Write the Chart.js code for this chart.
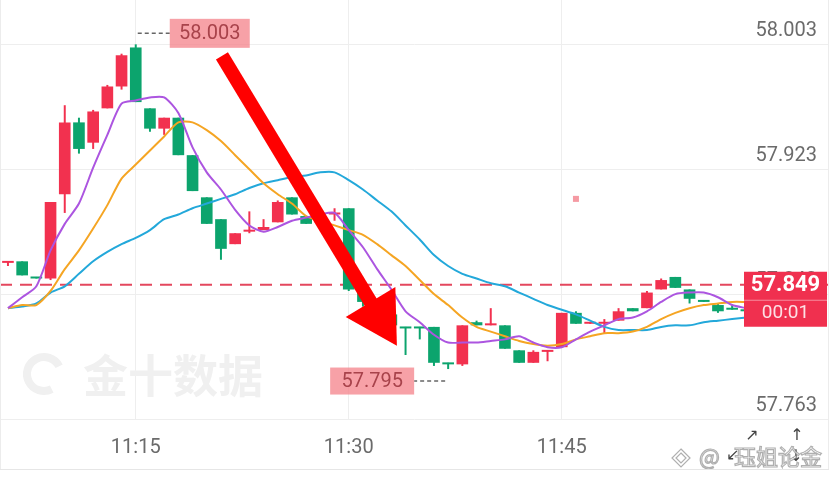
<!DOCTYPE html>
<html lang="zh">
<head>
<meta charset="utf-8">
<title>K线</title>
<script src="https://cdn.jsdelivr.net/npm/chart.js@4.4.1/dist/chart.umd.min.js"></script>
<style>
  html, body { margin: 0; padding: 0; background: #fff; }
  .kline-box { position: relative; width: 829px; height: 469px; border-bottom: 1px solid #e6e6e6; }
</style>
</head>
<body>
<div class="kline-box"><canvas id="kline"></canvas></div>
<script>
const times = ['11:06', '11:07', '11:08', '11:09', '11:10', '11:11', '11:12', '11:13', '11:14', '11:15',
  '11:16', '11:17', '11:18', '11:19', '11:20', '11:21', '11:22', '11:23', '11:24', '11:25',
  '11:26', '11:27', '11:28', '11:29', '11:30', '11:31', '11:32', '11:33', '11:34', '11:35',
  '11:36', '11:37', '11:38', '11:39', '11:40', '11:41', '11:42', '11:43', '11:44', '11:45',
  '11:46', '11:47', '11:48', '11:49', '11:50', '11:51', '11:52', '11:53', '11:54', '11:55',
  '11:56', '11:57', '11:58'];

const opens = [57.863, 57.864, 57.854, 57.853, 57.907, 57.953, 57.940, 57.962, 57.976, 58.001,
  57.962, 57.949, 57.956, 57.932, 57.905, 57.891, 57.875, 57.883, 57.884, 57.889,
  57.905, 57.893, 57.889, 57.894, 57.898, 57.846, 57.838, 57.830, 57.822, 57.822,
  57.822, 57.799, 57.798, 57.825, 57.823, 57.823, 57.807, 57.799, 57.806, 57.809,
  57.831, 57.824, 57.824, 57.826, 57.834, 57.834, 57.846, 57.854, 57.846, 57.839,
  57.836, 57.834, 57.833];
const highs = [57.864, 57.864, 57.854, 57.902, 57.964, 57.956, 57.961, 57.977, 57.997, 58.003,
  57.962, 57.956, 57.956, 57.932, 57.905, 57.891, 57.882, 57.896, 57.891, 57.903,
  57.905, 57.893, 57.895, 57.898, 57.898, 57.847, 57.838, 57.830, 57.822, 57.822,
  57.822, 57.799, 57.823, 57.826, 57.834, 57.823, 57.807, 57.807, 57.807, 57.831,
  57.832, 57.825, 57.827, 57.834, 57.834, 57.845, 57.853, 57.854, 57.846, 57.839,
  57.837, 57.836, 57.833];
const lows = [57.861, 57.855, 57.853, 57.852, 57.895, 57.933, 57.936, 57.962, 57.974, 57.966,
  57.947, 57.945, 57.932, 57.909, 57.888, 57.865, 57.875, 57.882, 57.884, 57.889,
  57.894, 57.888, 57.888, 57.890, 57.845, 57.835, 57.826, 57.820, 57.804, 57.814,
  57.797, 57.795, 57.797, 57.823, 57.823, 57.808, 57.799, 57.799, 57.800, 57.809,
  57.824, 57.824, 57.818, 57.826, 57.832, 57.834, 57.846, 57.847, 57.837, 57.838,
  57.831, 57.833, 57.832];
const closes = [57.864, 57.855, 57.853, 57.902, 57.953, 57.936, 57.960, 57.976, 57.996, 57.966,
  57.949, 57.956, 57.932, 57.909, 57.888, 57.872, 57.882, 57.884, 57.886, 57.902,
  57.894, 57.888, 57.893, 57.895, 57.846, 57.838, 57.830, 57.823, 57.821, 57.821,
  57.799, 57.798, 57.823, 57.823, 57.824, 57.808, 57.799, 57.806, 57.807, 57.831,
  57.824, 57.825, 57.825, 57.832, 57.832, 57.844, 57.852, 57.847, 57.840, 57.838,
  57.832, 57.833, 57.832];

// moving averages as they appear on the picture
const ma5 = [57.834, 57.841, 57.848, 57.871, 57.888, 57.901, 57.924, 57.945, 57.965, 57.967,
  57.969, 57.969, 57.959, 57.937, 57.921, 57.910, 57.897, 57.887, 57.883, 57.886,
  57.890, 57.892, 57.894, 57.895, 57.884, 57.873, 57.859, 57.846, 57.832, 57.825,
  57.817, 57.812, 57.812, 57.812, 57.813, 57.814, 57.816, 57.812, 57.809, 57.809,
  57.814, 57.819, 57.823, 57.827, 57.828, 57.832, 57.838, 57.843, 57.844, 57.844,
  57.841, 57.836, 57.834];
const ma10 = [57.834, 57.836, 57.836, 57.845, 57.859, 57.871, 57.885, 57.900, 57.917, 57.926,
  57.935, 57.944, 57.953, 57.953, 57.948, 57.941, 57.932, 57.923, 57.914, 57.907,
  57.901, 57.893, 57.890, 57.887, 57.884, 57.881, 57.875, 57.868, 57.861, 57.852,
  57.843, 57.836, 57.828, 57.822, 57.819, 57.816, 57.813, 57.811, 57.810, 57.811,
  57.814, 57.816, 57.818, 57.818, 57.819, 57.822, 57.827, 57.831, 57.834, 57.836,
  57.837, 57.838, 57.838];
const ma30 = [57.834, 57.835, 57.837, 57.844, 57.848, 57.856, 57.864, 57.870, 57.875, 57.879,
  57.884, 57.891, 57.894, 57.898, 57.901, 57.904, 57.907, 57.911, 57.914, 57.916,
  57.918, 57.919, 57.921, 57.921, 57.916, 57.910, 57.903, 57.896, 57.887, 57.878,
  57.868, 57.861, 57.856, 57.853, 57.850, 57.848, 57.844, 57.840, 57.836, 57.833,
  57.830, 57.826, 57.822, 57.820, 57.820, 57.820, 57.822, 57.823, 57.823, 57.825,
  57.826, 57.827, 57.828];

const yTicks = [57.763, 57.843, 57.923, 58.003];
const xTicks = ['11:15', '11:30', '11:45'];
const lastPrice = 57.849;
const countdown = '00:01';
const signalDot = { time: '11:46', price: 57.904 };
const arrowFrom = { x: 15.07, y: 57.9956 };
const arrowTo = { x: 27.39, y: 57.810 };

const UP = '#F2314F';
const DOWN = '#0CA46D';
const candleColors = closes.map((c, i) => (c >= opens[i] ? UP : DOWN));
const FONT = 'Roboto';

const highest = Math.max(...highs);
const lowest = Math.min(...lows);

function tag(ctx, text, left, midY, w, h) {
  ctx.fillStyle = 'rgba(244,130,138,0.75)';
  ctx.fillRect(left, midY - h / 2, w, h);
  ctx.fillStyle = '#A8434B';
  ctx.font = '20px ' + FONT;
  ctx.textAlign = 'center';
  ctx.textBaseline = 'middle';
  ctx.fillText(text, left + w / 2, midY + 1);
}

function dash(ctx, x1, x2, yy) {
  ctx.save();
  ctx.strokeStyle = '#666';
  ctx.lineWidth = 1.5;
  ctx.setLineDash([4, 3]);
  ctx.beginPath();
  ctx.moveTo(x1, yy);
  ctx.lineTo(x2, yy);
  ctx.stroke();
  ctx.restore();
}

const marks = {
  id: 'marks',
  beforeDatasetsDraw(chart) {
    const { ctx, chartArea: a, scales: { y } } = chart;
    ctx.save();
    // 金十数据 watermark
    ctx.strokeStyle = '#f0f0f0';
    ctx.lineWidth = 8;
    ctx.beginPath();
    ctx.arc(44, 374, 17, 0.35 * Math.PI, 1.85 * Math.PI);
    ctx.stroke();
    ctx.fillStyle = '#f0f0f0';
    ctx.font = 'bold 45px "Noto Sans CJK SC"';
    ctx.textBaseline = 'middle';
    ctx.fillText('金十数据', 83, 376);
    // last price line
    const py = y.getPixelForValue(lastPrice);
    ctx.strokeStyle = '#E4475E';
    ctx.lineWidth = 2;
    ctx.setLineDash([12, 8]);
    ctx.beginPath();
    ctx.moveTo(a.left, py);
    ctx.lineTo(a.right, py);
    ctx.stroke();
    ctx.restore();
  },
  afterDatasetsDraw(chart) {
    const { ctx, scales: { x, y } } = chart;
    ctx.save();
    // signal marker
    const sx = x.getPixelForValue(times.indexOf(signalDot.time));
    const sy = y.getPixelForValue(signalDot.price);
    ctx.fillStyle = 'rgba(242,120,132,0.75)';
    ctx.fillRect(sx - 3, sy - 3, 6, 6);

    // highest / lowest tags
    const hx = x.getPixelForValue(highs.indexOf(highest));
    const hy = y.getPixelForValue(highest) - 11;
    dash(ctx, hx + 2, hx + 34, hy);
    tag(ctx, highest.toFixed(3), hx + 34, hy, 80, 29);
    const lx = x.getPixelForValue(lows.indexOf(lowest));
    const ly = y.getPixelForValue(lowest) + 12;
    dash(ctx, lx - 3, lx - 34, ly);
    tag(ctx, lowest.toFixed(3), lx - 118, ly, 84, 27);

    // red arrow
    const p0 = { x: x.getPixelForValue(arrowFrom.x), y: y.getPixelForValue(arrowFrom.y) };
    const p1 = { x: x.getPixelForValue(arrowTo.x), y: y.getPixelForValue(arrowTo.y) };
    const len = Math.hypot(p1.x - p0.x, p1.y - p0.y);
    const ux = (p1.x - p0.x) / len, uy = (p1.y - p0.y) / len;
    const headLen = 51, headHalf = 29;
    const bx = p1.x - ux * headLen, by = p1.y - uy * headLen;
    ctx.strokeStyle = '#FF0000';
    ctx.fillStyle = '#FF0000';
    ctx.lineWidth = 14;
    ctx.lineCap = 'butt';
    ctx.beginPath();
    ctx.moveTo(p0.x, p0.y);
    ctx.lineTo(bx + ux * 2, by + uy * 2);
    ctx.stroke();
    ctx.beginPath();
    ctx.moveTo(p1.x, p1.y);
    ctx.lineTo(bx - uy * headHalf, by + ux * headHalf);
    ctx.lineTo(bx + uy * headHalf, by - ux * headHalf);
    ctx.closePath();
    ctx.fill();
    ctx.restore();
  },
  afterDraw(chart) {
    const { ctx, chartArea: a, scales: { y } } = chart;
    ctx.save();
    // current price box
    const py = y.getPixelForValue(lastPrice);
    const left = a.right - 85, w = 83;
    ctx.fillStyle = '#F0304F';
    ctx.fillRect(left, py - 13, w, 55);
    ctx.strokeStyle = 'rgba(255,255,255,0.45)';
    ctx.lineWidth = 1;
    ctx.beginPath();
    ctx.moveTo(left, py + 15.5);
    ctx.lineTo(left + w, py + 15.5);
    ctx.stroke();
    ctx.textAlign = 'center';
    ctx.textBaseline = 'middle';
    ctx.fillStyle = '#fff';
    ctx.font = 'bold 22px ' + FONT;
    ctx.fillText(lastPrice.toFixed(3), left + w / 2, py + 1);
    ctx.fillStyle = 'rgba(255,255,255,0.85)';
    ctx.font = '19px ' + FONT;
    ctx.fillText(countdown, left + w / 2, py + 29);

    // edges
    ctx.strokeStyle = '#ececec';
    ctx.beginPath();
    ctx.moveTo(0.5, 0); ctx.lineTo(0.5, chart.height);
    ctx.moveTo(828.5, 0); ctx.lineTo(828.5, chart.height);
    ctx.stroke();

    // corner icons
    ctx.fillStyle = '#444';
    ctx.font = '16px "DejaVu Sans"';
    ctx.fillText('↗', 752, 436);
    ctx.fillText('↑', 797, 436);
    ctx.fillText('↙', 733, 456);
    ctx.fillText('↓', 796, 457);

    // weibo watermark
    ctx.textAlign = 'left';
    ctx.lineWidth = 1.2;
    ctx.strokeStyle = 'rgba(110,110,110,0.55)';
    ctx.fillStyle = 'rgba(255,255,255,0.92)';
    ctx.beginPath();
    ctx.moveTo(681, 449); ctx.lineTo(690, 458); ctx.lineTo(681, 467); ctx.lineTo(672, 458); ctx.closePath();
    ctx.fill(); ctx.stroke();
    ctx.beginPath();
    ctx.moveTo(681, 453); ctx.lineTo(686, 458); ctx.lineTo(681, 463); ctx.lineTo(676, 458); ctx.closePath();
    ctx.stroke();
    ctx.font = '22px "Noto Sans CJK SC"';
    ctx.fillText('@', 699, 457);
    ctx.strokeText('@', 699, 457);
    ctx.fillText('珏姐论金', 734, 457);
    ctx.strokeText('珏姐论金', 734, 457);
    ctx.restore();
  }
};

const lineSet = (label, values, color) => ({
  type: 'line',
  label: label,
  data: values.map((v, i) => ({ x: i, y: v })),
  borderColor: color,
  borderWidth: 2,
  pointRadius: 0,
  tension: 0.25,
  order: 0
});

new Chart(document.getElementById('kline'), {
  type: 'bar',
  data: {
    datasets: [
      lineSet('MA5', ma5, '#AC55E0'),
      lineSet('MA10', ma10, '#F5A523'),
      lineSet('MA30', ma30, '#23A8DA'),
      {
        label: 'body',
        data: times.map((t, i) => ({ x: i, y: [opens[i], closes[i]] })),
        backgroundColor: candleColors,
        grouped: false,
        categoryPercentage: 1,
        barPercentage: 0.82,
        minBarLength: 2,
        order: 1
      },
      {
        label: 'wick',
        data: times.map((t, i) => ({ x: i, y: [lows[i], highs[i]] })),
        backgroundColor: candleColors,
        grouped: false,
        categoryPercentage: 1,
        barPercentage: 0.14,
        order: 2
      }
    ]
  },
  options: {
    responsive: true,
    maintainAspectRatio: false,
    animation: false,
    layout: { padding: 0 },
    plugins: { legend: { display: false }, tooltip: { enabled: false } },
    scales: {
      x: {
        type: 'linear',
        min: -0.56,
        max: 57.82,
        offset: false,
        grid: { color: '#eeeeee', drawTicks: false, offset: false },
        border: { display: false },
        afterBuildTicks: (s) => { s.ticks = xTicks.map((t) => ({ value: times.indexOf(t) })); },
        afterFit: (s) => { s.height = 50; },
        ticks: {
          autoSkip: false,
          maxRotation: 0,
          padding: 17,
          color: '#6b6b6b',
          font: { family: FONT, size: 20 },
          callback: (v) => times[v]
        }
      },
      y: {
        position: 'right',
        min: 57.763,
        max: 58.0314,
        grid: { color: '#eeeeee', drawTicks: false },
        border: { display: false },
        afterBuildTicks: (s) => { s.ticks = yTicks.map((v) => ({ value: v })); },
        afterFit: (s) => { s.width = 0; },
        ticks: {
          mirror: true,
          padding: -12,
          labelOffset: -13,
          color: '#6b6b6b',
          font: { family: FONT, size: 20 },
          callback: (v) => v.toFixed(3)
        }
      }
    }
  },
  plugins: [marks]
});
</script>
</body>
</html>
